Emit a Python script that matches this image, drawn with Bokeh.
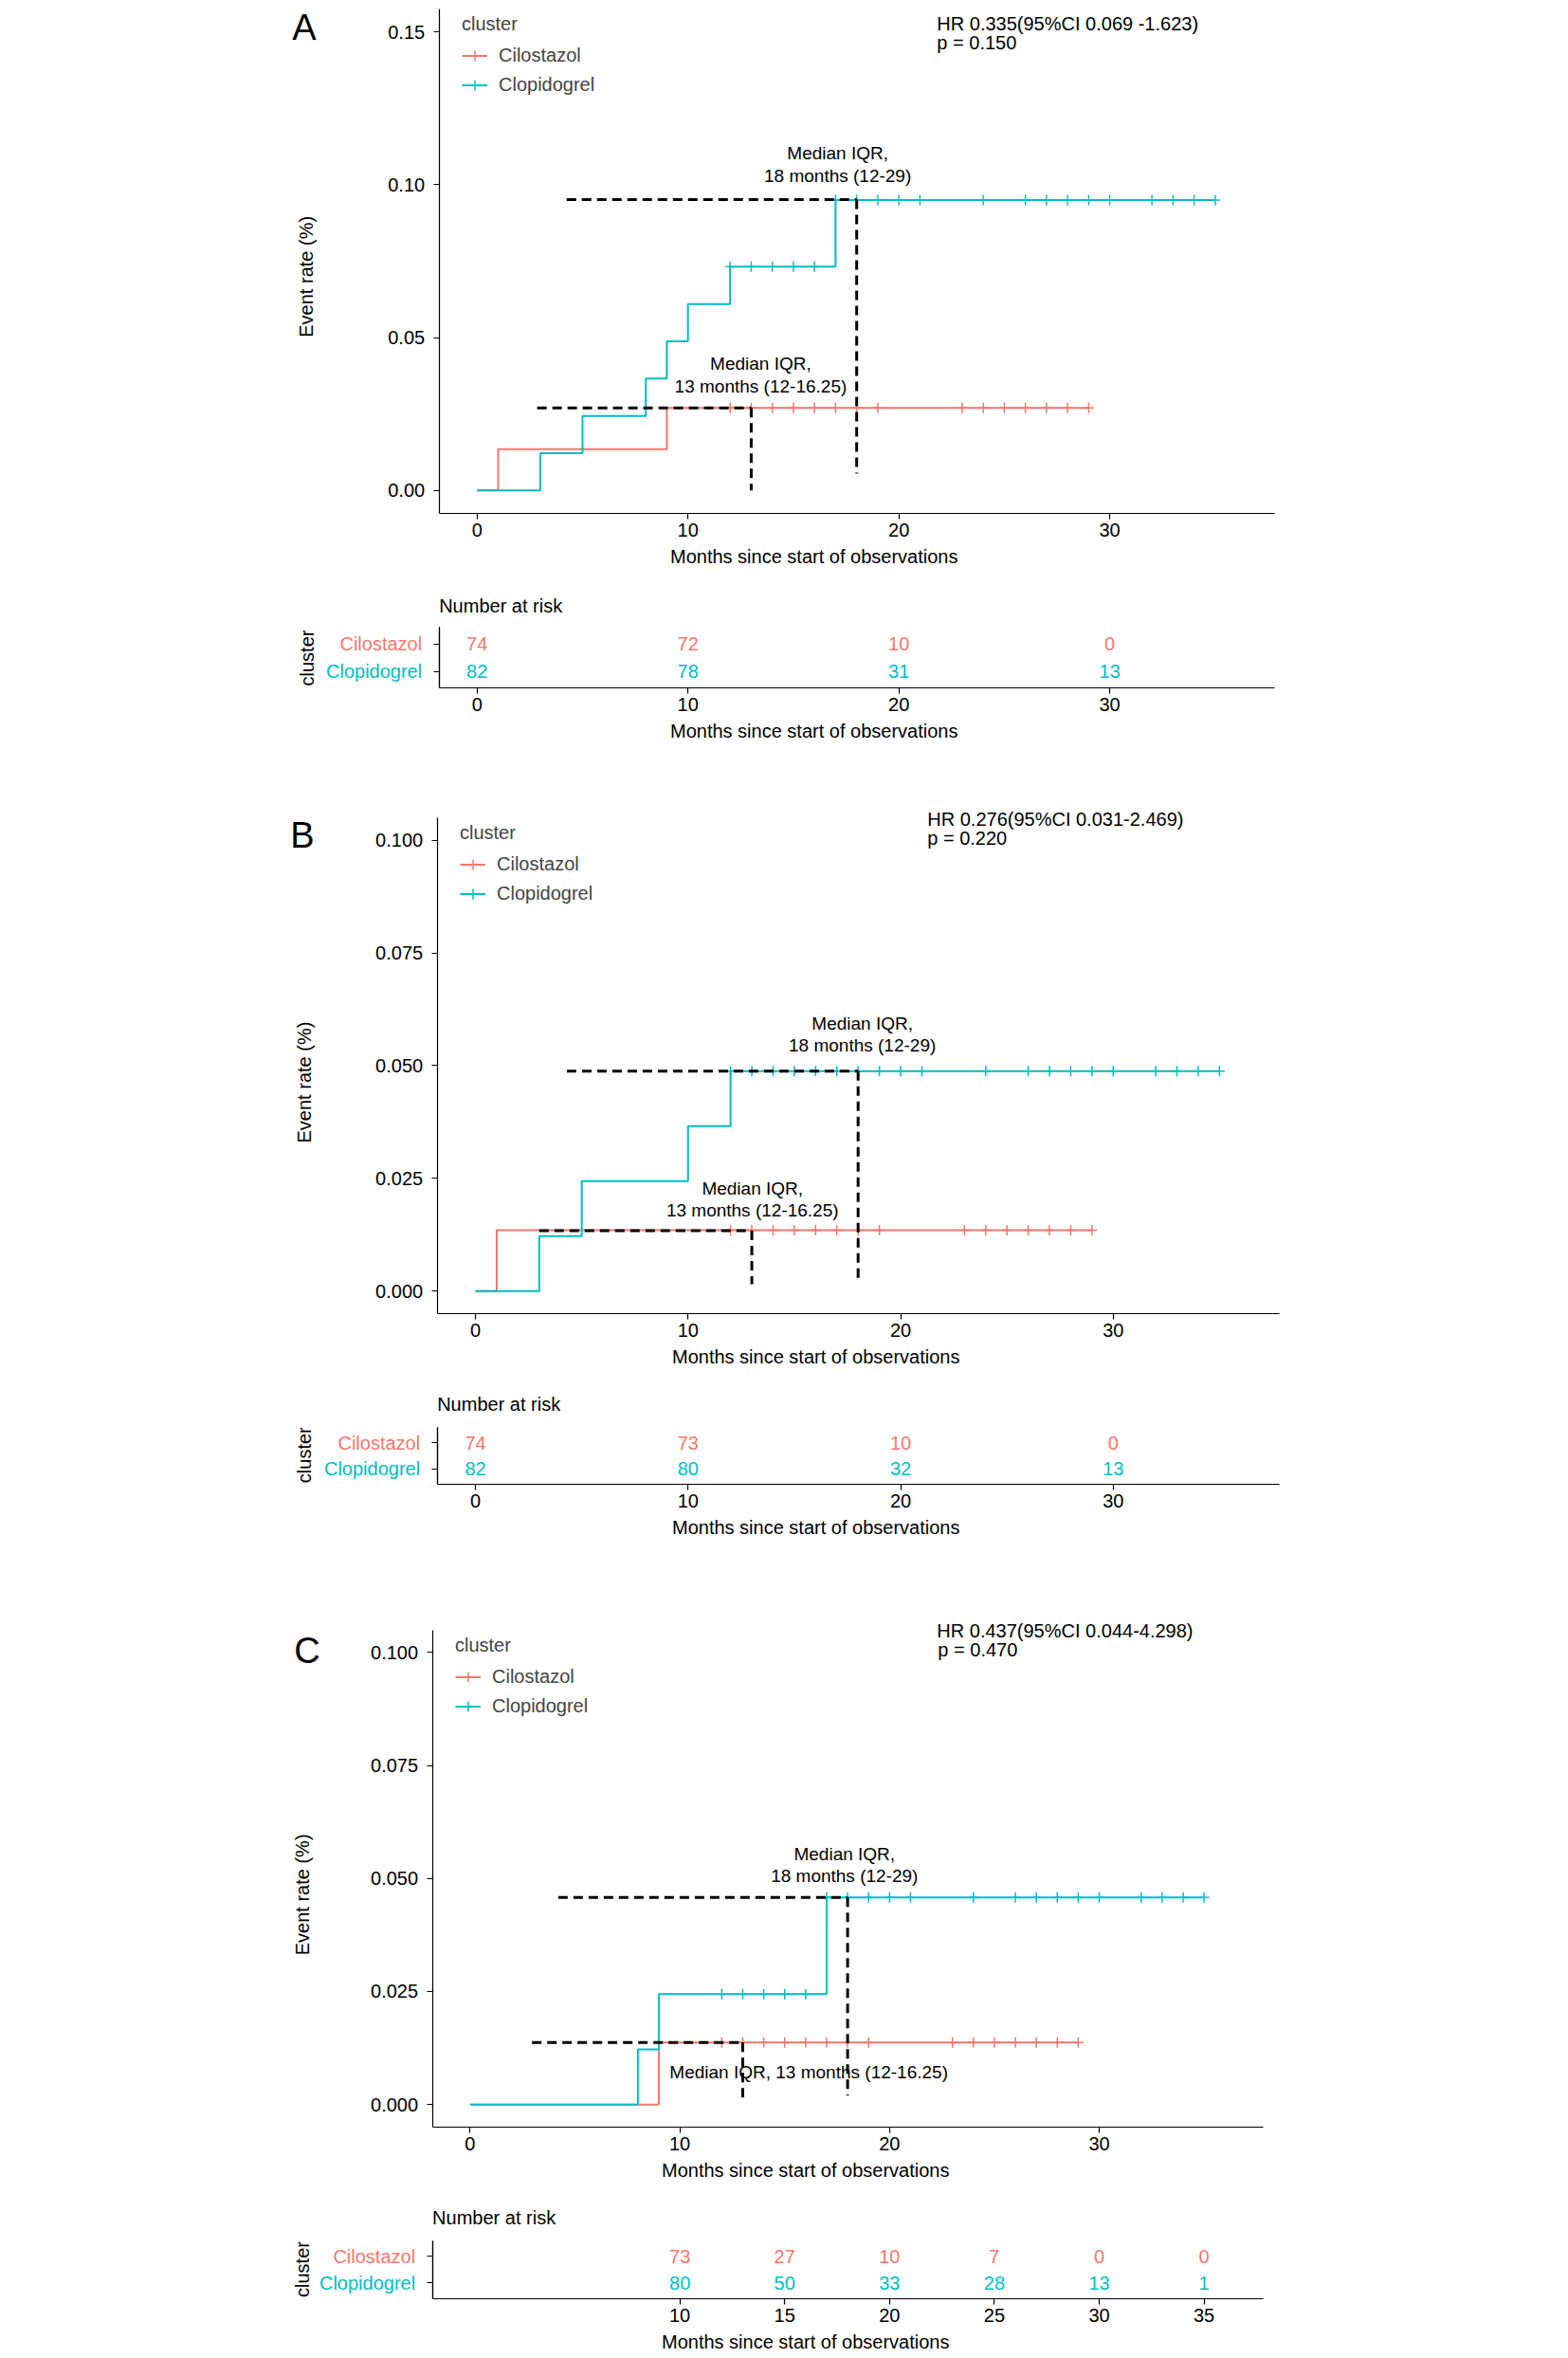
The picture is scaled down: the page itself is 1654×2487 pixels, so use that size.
import numpy as np
from bokeh.plotting import figure
from bokeh.models import (Range1d, Label, Legend, LegendItem, FixedTicker, NumeralTickFormatter,
                          ColumnDataSource, LinearAxis)
from bokeh.layouts import column
from bokeh.embed import file_html
from bokeh.resources import INLINE
from bokeh.core.properties import value

RED = "#F8766D"
TEAL = "#00BFC4"
FONT = "Liberation Sans"

groups = ["Cilostazol", "Clopidogrel"]
x_title = "Months since start  of observations"
y_title = "Event rate (%)"

# ---------------- data: panel A ----------------
A_cil_t = [0, 1, 9]
A_cil_y = [0.0, 0.0135, 0.0270]
A_cil_end = 29
A_clo_t = [0, 3, 5, 8, 9, 10, 12, 17]
A_clo_y = [0.0, 0.0122, 0.0244, 0.0366, 0.0488, 0.0610, 0.0732, 0.0950]
A_clo_end = 35
A_cil_cens = [12, 13, 14, 15, 16, 17, 18, 19, 23, 24, 25, 26, 27, 28, 29]
A_clo_cens = [12, 13, 14, 15, 16, 17, 18, 19, 20, 21, 24, 26, 27, 28, 29, 30, 32, 33, 34, 35]
A_hr = "HR 0.335(95%CI 0.069 -1.623)"
A_p = "p = 0.150"
A_risk_t = [0, 10, 20, 30]
A_risk_cil = [74, 72, 10, 0]
A_risk_clo = [82, 78, 31, 13]
A_med = [13, 18]
A_med_level = [0.0270, 0.0952]
A_med_start = [2.85, 4.25]
A_med_vend = [0.0, 0.0055]
A_med_text = [["Median IQR,", "13 months (12-16.25)"], ["Median IQR,", "18 months (12-29)"]]
A_med_text_x = [13.45, 17.1]
A_med_text_y = [[0.0414, 0.0342], [0.1105, 0.1030]]
A_yticks = [0.0, 0.05, 0.10, 0.15]

# ---------------- data: panel B ----------------
B_cil_t = [0, 1]
B_cil_y = [0.0, 0.0135]
B_cil_end = 29
B_clo_t = [0, 3, 5, 10, 12]
B_clo_y = [0.0, 0.0122, 0.0244, 0.0366, 0.0488]
B_clo_end = 35
B_cil_cens = [12, 13, 14, 15, 16, 17, 18, 19, 23, 24, 25, 26, 27, 28, 29]
B_clo_cens = [12, 13, 14, 15, 16, 17, 18, 19, 20, 21, 24, 26, 27, 28, 29, 30, 32, 33, 34, 35]
B_hr = "HR 0.276(95%CI 0.031-2.469)"
B_p = "p = 0.220"
B_risk_t = [0, 10, 20, 30]
B_risk_cil = [74, 73, 10, 0]
B_risk_clo = [82, 80, 32, 13]
B_med = [13, 18]
B_med_level = [0.0134, 0.0488]
B_med_start = [3.0, 4.3]
B_med_vend = [0.0015, 0.0020]
B_med_text = [["Median IQR,", "13 months (12-16.25)"], ["Median IQR,", "18 months (12-29)"]]
B_med_text_x = [13.03, 18.2]
B_med_text_y = [[0.0227, 0.0179], [0.0594, 0.0544]]
B_yticks = [0.0, 0.025, 0.05, 0.075, 0.10]

# ---------------- data: panel C ----------------
C_cil_t = [0, 9]
C_cil_y = [0.0, 0.0137]
C_cil_end = 29
C_clo_t = [0, 8, 9, 17]
C_clo_y = [0.0, 0.0122, 0.0244, 0.0458]
C_clo_end = 35
C_cil_cens = [12, 13, 14, 15, 16, 17, 18, 19, 23, 24, 25, 26, 27, 28, 29]
C_clo_cens = [12, 13, 14, 15, 16, 17, 18, 19, 20, 21, 24, 26, 27, 28, 29, 30, 32, 33, 34, 35]
C_hr = "HR 0.437(95%CI 0.044-4.298)"
C_p = "p = 0.470"
C_risk_t = [10, 15, 20, 25, 30, 35]
C_risk_cil = [73, 27, 10, 7, 0, 0]
C_risk_clo = [80, 50, 33, 28, 13, 1]
C_med = [13, 18]
C_med_level = [0.0137, 0.0458]
C_med_start = [2.95, 4.2]
C_med_vend = [0.0013, 0.0020]
C_med_text = [["Median IQR, 13 months (12-16.25)"], ["Median IQR,", "18 months (12-29)"]]
C_med_text_x = [16.15, 17.85]
C_med_text_y = [[0.0072], [0.0554, 0.0506]]
C_yticks = [0.0, 0.025, 0.05, 0.075, 0.10]

X_RANGE = (-1.8, 37.8)
RISK_YR = (0.4, 2.6)

# ---------------- layout ----------------
# geometry below is given in reference-image pixels; S converts to canvas pixels
S = 1.008
FIG_W = 1620
ML_MAIN = 200
ML_RISK = 290

panels = [
    dict(letter="A", main_ax=(459, 1333, 9, 537), main_span=(0, 606), risk_ax=(459, 1333, 656, 719), risk_span=(606, 804),
         title_cx=854,
         yr=(-0.0075, 0.1575), yfmt="0.00", letter_xy=(318, 28), ytitle_xy=(320, 289), hr_xy=(980, 24.5), p_xy=(980, 44),
         nar_y=633, clus_x=321,
         cil_t=A_cil_t, cil_y=A_cil_y, cil_end=A_cil_end, clo_t=A_clo_t, clo_y=A_clo_y, clo_end=A_clo_end,
         cil_cens=A_cil_cens, clo_cens=A_clo_cens, hr=A_hr, p=A_p, risk_t=A_risk_t, risk_cil=A_risk_cil, risk_clo=A_risk_clo,
         med=A_med, med_level=A_med_level, med_start=A_med_start, med_vend=A_med_vend, med_text=A_med_text,
         med_text_x=A_med_text_x, med_text_y=A_med_text_y, yticks=A_yticks, xticks=[0, 10, 20, 30], rticks=[0, 10, 20, 30]),
    dict(letter="B", main_ax=(457, 1338, 855, 1374), main_span=(804, 1444), risk_ax=(457, 1338, 1493, 1553), risk_span=(1444, 1664),
         title_cx=856,
         yr=(-0.005, 0.105), yfmt="0.000", letter_xy=(316, 874), ytitle_xy=(318, 1132), hr_xy=(970, 857), p_xy=(970, 876),
         nar_y=1469, clus_x=318,
         cil_t=B_cil_t, cil_y=B_cil_y, cil_end=B_cil_end, clo_t=B_clo_t, clo_y=B_clo_y, clo_end=B_clo_end,
         cil_cens=B_cil_cens, clo_cens=B_clo_cens, hr=B_hr, p=B_p, risk_t=B_risk_t, risk_cil=B_risk_cil, risk_clo=B_risk_clo,
         med=B_med, med_level=B_med_level, med_start=B_med_start, med_vend=B_med_vend, med_text=B_med_text,
         med_text_x=B_med_text_x, med_text_y=B_med_text_y, yticks=B_yticks, xticks=[0, 10, 20, 30], rticks=[0, 10, 20, 30]),
    dict(letter="C", main_ax=(452, 1321, 1705, 2225), main_span=(1664, 2294), risk_ax=(452, 1321, 2344, 2405), risk_span=(2294, 2466),
         title_cx=845,
         yr=(-0.005, 0.105), yfmt="0.000", letter_xy=(321, 1727), ytitle_xy=(316, 1982), hr_xy=(980, 1706), p_xy=(981, 1725.5),
         nar_y=2320, clus_x=316,
         cil_t=C_cil_t, cil_y=C_cil_y, cil_end=C_cil_end, clo_t=C_clo_t, clo_y=C_clo_y, clo_end=C_clo_end,
         cil_cens=C_cil_cens, clo_cens=C_clo_cens, hr=C_hr, p=C_p, risk_t=C_risk_t, risk_cil=C_risk_cil, risk_clo=C_risk_clo,
         med=C_med, med_level=C_med_level, med_start=C_med_start, med_vend=C_med_vend, med_text=C_med_text,
         med_text_x=C_med_text_x, med_text_y=C_med_text_y, yticks=C_yticks, xticks=[0, 10, 20, 30], rticks=[10, 15, 20, 25, 30, 35]),
]


def style_axis(ax):
    ax.axis_line_color = "black"
    ax.axis_line_width = 1.2
    ax.major_tick_line_color = "black"
    ax.major_tick_line_width = 1.2
    ax.major_tick_out = 6
    ax.major_tick_in = 0
    ax.minor_tick_line_color = None
    ax.major_label_text_font = FONT
    ax.major_label_text_font_size = "20px"
    ax.major_label_text_color = "black"
    ax.axis_label_text_font = FONT
    ax.axis_label_text_font_size = "20px"
    ax.axis_label_text_font_style = "normal"
    ax.axis_label_text_color = "black"


def make_fig(ax_frame, span, ml, yr, title_cx):
    """ax_frame: reference-pixel box of the plotting panel (where the axes lie)."""
    L, R, T, B = [v * S for v in ax_frame]
    top, bot = [round(v * S) for v in span]
    fl = ml
    fr = round(2 * title_cx * S - ml)          # frame centred on the axis title
    ft, fb = top, round(B)
    xpp = (X_RANGE[1] - X_RANGE[0]) / (R - L)
    xr = (X_RANGE[0] - (L - fl) * xpp, X_RANGE[1] + (fr - R) * xpp)
    ypp = (yr[1] - yr[0]) / (fb - T)
    yrr = (yr[0], yr[1] + (T - ft) * ypp)
    p = figure(width=FIG_W, height=bot - top, x_range=Range1d(*xr), y_range=Range1d(*yrr),
               y_axis_location=None, output_backend="svg", toolbar_location=None,
               min_border_left=ml, min_border_right=FIG_W - fr, min_border_top=0, min_border_bottom=bot - fb)
    p.frame_align = False
    p.outline_line_color = None
    p.grid.visible = False
    p.background_fill_color = "white"
    p.border_fill_color = "white"
    style_axis(p.xaxis[0])
    p.xaxis.bounds = X_RANGE
    p.xaxis.axis_label = x_title
    p.xaxis.major_label_standoff = 4
    p.xaxis.axis_label_standoff = 7

    def conv(px, py):
        x = xr[0] + (px * S - fl) * xpp
        y = yrr[1] - (py * S - ft) * ypp
        return x, y
    return p, conv, (fl, fr, ft, fb)


def lab(p, conv, px, py, text, size="20px", align="left", color="black", angle=0.0):
    x, y = conv(px, py)
    p.add_layout(Label(x=x, y=y, text=text, text_font=FONT, text_font_size=size, text_color=color,
                       text_align=align, text_baseline="middle", angle=angle))


def km_y(t_list, y_list, t):
    v = y_list[0]
    for tt, yy in zip(t_list, y_list):
        if tt <= t:
            v = yy
    return v


figs = []
for P in panels:
    # ---------- main survival panel ----------
    p, conv, fbox = make_fig(P["main_ax"], P["main_span"], ML_MAIN, P["yr"], P["title_cx"])
    p.xaxis.ticker = FixedTicker(ticks=P["xticks"])
    yax = LinearAxis(fixed_location=X_RANGE[0], bounds=P["yr"], ticker=FixedTicker(ticks=P["yticks"]),
                     formatter=NumeralTickFormatter(format=P["yfmt"]))
    style_axis(yax)
    yax.major_label_standoff = 9
    p.add_layout(yax, "left")

    rends = []
    for g, col, tt, yy, end, cens in (("Cilostazol", RED, P["cil_t"], P["cil_y"], P["cil_end"], P["cil_cens"]),
                                       ("Clopidogrel", TEAL, P["clo_t"], P["clo_y"], P["clo_end"], P["clo_cens"])):
        xs = list(tt) + [end]
        ys = list(yy) + [yy[-1]]
        r1 = p.step(x=xs, y=ys, mode="after", line_color=col, line_width=2)
        cy = [km_y(tt, yy, c) for c in cens]
        r2 = p.scatter(x=cens, y=cy, marker="cross", size=11, line_color=col, line_width=1.5)
        rends.append((g, r1, r2))

    # median dashed guides
    med_src = ColumnDataSource(dict(med=P["med"], lev=P["med_level"], st=P["med_start"], ve=P["med_vend"]))
    p.segment(x0="st", y0="lev", x1="med", y1="lev", source=med_src, line_color="black", line_width=3, line_dash="10 6")
    p.segment(x0="med", y0="lev", x1="med", y1="ve", source=med_src, line_color="black", line_width=3, line_dash="10 6")

    for lines, mx, myl in zip(P["med_text"], P["med_text_x"], P["med_text_y"]):
        for txt, my in zip(lines, myl):
            p.add_layout(Label(x=mx, y=my, text=txt, text_font=FONT, text_font_size="19px", text_color="black",
                               text_align="center", text_baseline="middle"))

    legend = Legend(items=[LegendItem(label=g, renderers=[r1, r2]) for g, r1, r2 in rends],
                    title="cluster", padding=0, margin=0, spacing=4,
                    glyph_width=27, glyph_height=27, label_height=27, label_standoff=12,
                    title_standoff=8,
                    title_text_font=FONT, title_text_font_size="20px", title_text_font_style="normal",
                    label_text_font=FONT, label_text_font_size="20px",
                    background_fill_alpha=0, border_line_alpha=0)
    fl, fr, ft, fb = fbox
    L, R, T, B = P["main_ax"]
    legend.location = (round(L * S) + 24 - fl, (fb - ft) - (round(T * S) - ft) - 5 - 89)
    p.add_layout(legend)

    lab(p, conv, P["letter_xy"][0], P["letter_xy"][1], P["letter"], size="38px", align="center")
    lab(p, conv, P["ytitle_xy"][0], P["ytitle_xy"][1], y_title, align="center", angle=np.pi / 2)
    lab(p, conv, P["hr_xy"][0], P["hr_xy"][1], P["hr"])
    lab(p, conv, P["p_xy"][0], P["p_xy"][1], P["p"])
    figs.append(p)

    # ---------- risk table ----------
    q, qconv, _ = make_fig(P["risk_ax"], P["risk_span"], ML_RISK, RISK_YR, P["title_cx"])
    q.xaxis.ticker = FixedTicker(ticks=P["rticks"])
    for row, col, g in ((2, RED, groups[0]), (1, TEAL, groups[1])):
        ax = LinearAxis(fixed_location=X_RANGE[0], bounds=RISK_YR, ticker=FixedTicker(ticks=[row]),
                        major_label_overrides={row: g})
        style_axis(ax)
        ax.major_label_text_color = col
        ax.major_label_standoff = 12
        q.add_layout(ax, "left")
    for row, col, vals in ((2, RED, P["risk_cil"]), (1, TEAL, P["risk_clo"])):
        src = ColumnDataSource(dict(x=P["risk_t"], y=[row] * len(vals), t=[str(v) for v in vals]))
        q.text(x="x", y="y", text="t", source=src, text_font=value(FONT), text_font_size=value("20px"),
               text_color=col, text_align="center", text_baseline="middle")
    lab(q, qconv, P["risk_ax"][0], P["nar_y"], "Number at risk")
    lab(q, qconv, P["clus_x"], P["risk_ax"][3] - 31, "cluster", align="center", angle=np.pi / 2)
    figs.append(q)

layout = column(*figs, spacing=0)
open("out.html", "w").write(file_html(layout, INLINE))
